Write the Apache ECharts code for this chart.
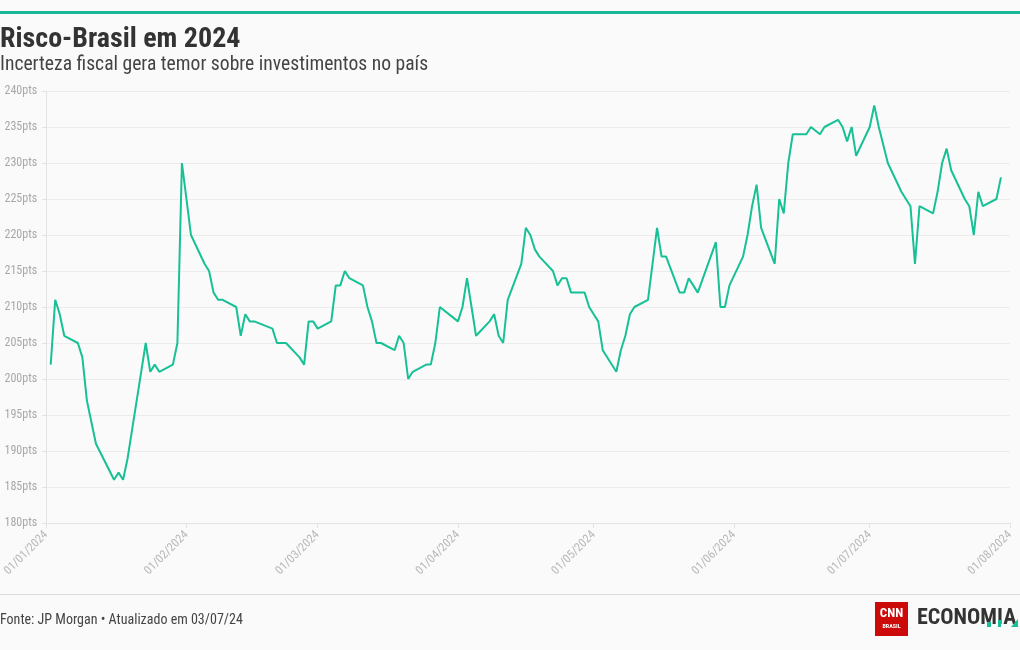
<!DOCTYPE html>
<html>
<head>
<meta charset="utf-8">
<script src="https://cdn.jsdelivr.net/npm/echarts@6/dist/echarts.min.js"></script>
<style>
html,body{margin:0;padding:0;background:#fafafa;}
#chart{width:1020px;height:650px;}
</style>
</head>
<body>
<div id="chart"></div>
<script>
var dates = [
'2024-01-02','2024-01-03','2024-01-04','2024-01-05','2024-01-08','2024-01-09','2024-01-10','2024-01-11','2024-01-12',
'2024-01-16','2024-01-17','2024-01-18','2024-01-19','2024-01-22','2024-01-23','2024-01-24','2024-01-25','2024-01-26',
'2024-01-29','2024-01-30','2024-01-31','2024-02-01','2024-02-02','2024-02-05','2024-02-06','2024-02-07','2024-02-08',
'2024-02-09','2024-02-12','2024-02-13','2024-02-14','2024-02-15','2024-02-16','2024-02-20','2024-02-21','2024-02-22',
'2024-02-23','2024-02-26','2024-02-27','2024-02-28','2024-02-29','2024-03-01','2024-03-04','2024-03-05','2024-03-06',
'2024-03-07','2024-03-08','2024-03-11','2024-03-12','2024-03-13','2024-03-14','2024-03-15','2024-03-18','2024-03-19',
'2024-03-20','2024-03-21','2024-03-22','2024-03-25','2024-03-26','2024-03-27','2024-03-28','2024-04-01','2024-04-02',
'2024-04-03','2024-04-04','2024-04-05','2024-04-08','2024-04-09','2024-04-10','2024-04-11','2024-04-12','2024-04-15',
'2024-04-16','2024-04-17','2024-04-18','2024-04-19','2024-04-22','2024-04-23','2024-04-24','2024-04-25','2024-04-26',
'2024-04-29','2024-04-30','2024-05-01','2024-05-02','2024-05-03','2024-05-06','2024-05-07','2024-05-08','2024-05-09',
'2024-05-10','2024-05-13','2024-05-14','2024-05-15','2024-05-16','2024-05-17','2024-05-20','2024-05-21','2024-05-22',
'2024-05-23','2024-05-24','2024-05-28','2024-05-29','2024-05-30','2024-05-31','2024-06-03','2024-06-04','2024-06-05',
'2024-06-06','2024-06-07','2024-06-10','2024-06-11','2024-06-12','2024-06-13','2024-06-14','2024-06-17','2024-06-18',
'2024-06-20','2024-06-21','2024-06-24','2024-06-25','2024-06-26','2024-06-27','2024-06-28','2024-07-01','2024-07-02',
'2024-07-03','2024-07-05','2024-07-08','2024-07-09','2024-07-10','2024-07-11','2024-07-12','2024-07-15','2024-07-16',
'2024-07-17','2024-07-18','2024-07-19','2024-07-22','2024-07-23','2024-07-24','2024-07-25','2024-07-26','2024-07-29',
'2024-07-30'
];
var values = [
202,211,209,206,205,203,197,194,191,
186,187,186,189,201,205,201,202,201,
202,205,230,225,220,216,215,212,211,
211,210,206,209,208,208,207,205,205,
205,203,202,208,208,207,208,213,213,
215,214,213,210,208,205,205,204,206,
205,200,201,202,202,205,210,208,210,
214,210,206,208,209,206,205,211,216,
221,220,218,217,215,213,214,214,212,
212,210,209,208,204,201,204,206,209,
210,211,216,221,217,217,212,212,214,
213,212,219,210,210,213,217,220,224,
227,221,216,225,223,230,234,234,235,
234,235,236,235,233,235,231,235,238,
235,230,226,225,224,216,224,223,226,
230,232,229,225,224,220,226,224,225,
228
];
var xMin = '2024-01-01';
var xMax = '2024-08-01';
var yMin = 180, yMax = 240, yStep = 5;
var titleText = 'Risco-Brasil em 2024';
var subtitleText = 'Incerteza fiscal gera temor sobre investimentos no país';
var sourceText = 'Fonte: JP Morgan • Atualizado em 03/07/24';

var FONT = "'Roboto Condensed','Liberation Sans Narrow','DejaVu Sans Condensed',Roboto,sans-serif";
var seriesData = dates.map(function(d, i){ return [d, values[i]]; });

var chart = echarts.init(document.getElementById('chart'));
chart.setOption({
  backgroundColor: '#fafafa',
  animation: false,
  grid: { left: 44, right: 10, top: 91, bottom: 127, containLabel: false },
  xAxis: {
    type: 'time',
    min: xMin,
    max: xMax,
    splitNumber: 7,
    axisLine: { show: true, lineStyle: { color: '#e3e3e3' } },
    axisTick: { show: true, length: 5, lineStyle: { color: '#e3e3e3' } },
    splitLine: { show: false },
    axisLabel: {
      rotate: 45,
      formatter: '{dd}/{MM}/{yyyy}',
      color: '#b8b8b8',
      fontFamily: FONT,
      fontSize: 12,
      fontWeight: 'normal',
      showMinLabel: true,
      showMaxLabel: true,
      margin: 10
    }
  },
  yAxis: {
    type: 'value',
    min: yMin,
    max: yMax,
    interval: yStep,
    axisLine: { show: true, lineStyle: { color: '#e3e3e3' } },
    axisTick: { show: true, length: 4, lineStyle: { color: '#e3e3e3' } },
    splitLine: { show: true, lineStyle: { color: '#ececec' } },
    axisLabel: {
      formatter: '{value}pts',
      color: '#a8a8a8',
      fontFamily: FONT,
      fontSize: 12,
      margin: 9
    }
  },
  series: [{
    type: 'line',
    data: seriesData,
    showSymbol: false,
    symbol: 'none',
    lineStyle: { color: '#17c095', width: 2 },
    itemStyle: { color: '#17c095' }
  }],
  graphic: [
    { type: 'rect', shape: { x: 0, y: 11, width: 1020, height: 3 }, style: { fill: '#17b896' } },
    { type: 'text', x: 0, y: 26, style: { text: titleText, fontFamily: FONT, fontSize: 28, fontWeight: 'bold', fill: '#333333' } },
    { type: 'text', x: 0, y: 55, style: { text: subtitleText, fontFamily: FONT, fontSize: 19.6, fill: '#444444' } },
    { type: 'rect', shape: { x: 0, y: 594, width: 1020, height: 1 }, style: { fill: '#dddddd' } },
    { type: 'text', x: 0, y: 613, style: { text: sourceText, fontFamily: FONT, fontSize: 14, fill: '#444444' } },
    { type: 'rect', shape: { x: 875, y: 602, width: 33, height: 34 }, style: { fill: '#cc0a0a' } },
    { type: 'text', x: 891.5, y: 607, style: { text: 'CNN', fontFamily: FONT, fontSize: 13, fontWeight: 'bold', fill: '#ffffff', align: 'center' } },
    { type: 'text', x: 891.5, y: 623, style: { text: 'BRASIL', fontFamily: FONT, fontSize: 6, fontWeight: 'bold', fill: '#ffffff', align: 'center' } },
    { type: 'text', x: 917, y: 607, style: { text: 'ECONOMIA', fontFamily: FONT, fontSize: 22, fontWeight: 'bold', fill: '#333333' } },
    { type: 'polygon', shape: { points: [[1011, 627], [1018, 627], [1018, 619]] }, style: { fill: '#17c095' } },
    { type: 'rect', shape: { x: 987, y: 622, width: 4, height: 5 }, style: { fill: '#17c095' } },
    { type: 'rect', shape: { x: 998, y: 620, width: 3, height: 7 }, style: { fill: '#17c095' } }
  ]
});
</script>
</body>
</html>
